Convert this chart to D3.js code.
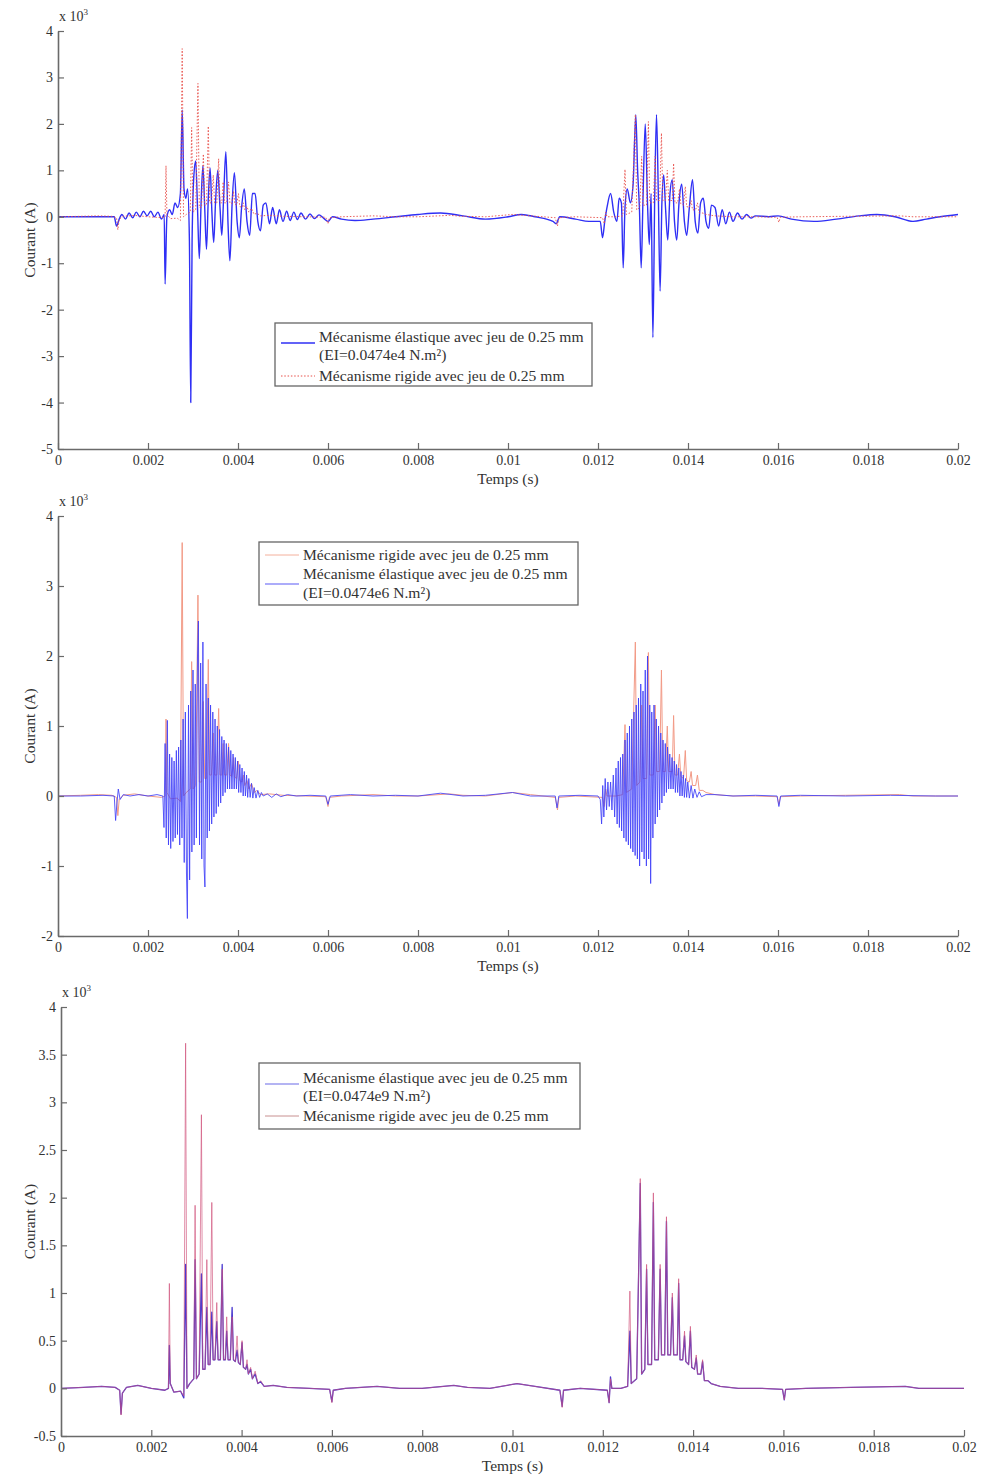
<!DOCTYPE html>
<html><head><meta charset="utf-8">
<script src="https://cdn.jsdelivr.net/npm/d3@7"></script>
<style>body{margin:0;background:#fff}svg{display:block}text{font-family:"Liberation Serif","DejaVu Serif",serif}</style>
</head><body>
<script>
// ---------- DATA (time in ms, current in x10^3 A) ----------
const xTickValues = [0,2,4,6,8,10,12,14,16,18,20];
const xTickLabels = ["0","0.002","0.004","0.006","0.008","0.01","0.012","0.014","0.016","0.018","0.02"];
const yTicks1 = [4,3,2,1,0,-1,-2,-3,-4,-5];
const yTicks2 = [4,3,2,1,0,-1,-2];
const yTicks3 = [4,3.5,3,2.5,2,1.5,1,0.5,0,-0.5];
const yTickLabels3 = ["4","3.5","3","2.5","2","1.5","1","0.5","0","-0.5"];

const rigid = [[0,0],[0.5,0.01],[0.9,0.02],[1.2,0.01],[1.3,-0.02],[1.33,-0.28],[1.36,-0.05],[1.45,0.01],[1.7,0.03],[2.0,0.0],[2.3,-0.02],[2.38,0.0],[2.40,1.1],[2.42,0.05],[2.5,-0.04],[2.65,-0.03],[2.72,-0.08],[2.76,3.62],[2.79,0.0],[2.85,0.05],[2.94,0.1],[2.97,1.92],[3.0,0.1],[3.06,0.15],[3.11,2.87],[3.14,0.2],[3.19,0.2],[3.23,1.35],[3.26,0.25],[3.30,0.25],[3.34,1.95],[3.37,0.3],[3.41,0.3],[3.45,0.9],[3.48,0.3],[3.53,0.3],[3.57,1.25],[3.60,0.3],[3.64,0.3],[3.67,0.75],[3.70,0.3],[3.75,0.3],[3.79,0.75],[3.82,0.3],[3.86,0.28],[3.90,0.55],[3.93,0.27],[3.97,0.25],[4.01,0.5],[4.04,0.22],[4.09,0.2],[4.12,0.3],[4.15,0.15],[4.2,0.22],[4.24,0.1],[4.3,0.18],[4.36,0.05],[4.42,0.08],[4.5,0.02],[4.7,0.03],[5.0,0.01],[5.5,0.0],[5.95,-0.01],[6.0,-0.15],[6.03,-0.02],[6.3,0.0],[7.0,0.02],[7.5,0.0],[8.0,0.0],[8.7,0.03],[9.0,0.01],[9.5,0.0],[10.1,0.05],[10.5,0.02],[11.05,-0.02],[11.1,-0.2],[11.13,-0.02],[11.5,0.0],[12.1,-0.02],[12.14,-0.15],[12.17,0.1],[12.2,0.0],[12.4,0.0],[12.55,0.02],[12.6,1.02],[12.63,0.05],[12.75,0.1],[12.83,2.2],[12.86,0.15],[12.93,0.2],[12.97,1.3],[13.0,0.25],[13.08,0.25],[13.12,2.05],[13.15,0.3],[13.23,0.3],[13.27,1.3],[13.3,0.35],[13.37,0.35],[13.41,1.8],[13.44,0.35],[13.5,0.35],[13.54,1.0],[13.57,0.35],[13.65,0.35],[13.68,1.15],[13.71,0.3],[13.77,0.3],[13.81,0.6],[13.84,0.28],[13.9,0.25],[13.94,0.65],[13.97,0.22],[14.03,0.2],[14.07,0.35],[14.1,0.15],[14.17,0.15],[14.21,0.3],[14.25,0.08],[14.33,0.08],[14.4,0.05],[14.6,0.02],[15.0,0.0],[15.5,0.0],[15.98,-0.01],[16.02,-0.12],[16.05,-0.01],[16.5,0.0],[17.5,0.01],[18.7,0.02],[19.0,0.0],[20.0,0.0]];

const elasticE4 = [[0,0],[0.5,0.0],[1.0,0.0],[1.25,0.0],[1.3,-0.2],[1.36,-0.05],[1.42,0.05],[1.5,-0.05],[1.58,0.08],[1.66,-0.02],[1.74,0.1],[1.82,0.0],[1.9,0.12],[1.98,0.02],[2.06,0.12],[2.14,0.0],[2.22,0.1],[2.3,-0.05],[2.36,0.05],[2.38,-1.45],[2.42,0.0],[2.48,0.15],[2.54,0.05],[2.6,0.3],[2.66,0.2],[2.72,0.5],[2.76,2.3],[2.8,0.6],[2.84,0.4],[2.88,0.6],[2.92,-0.5],[2.95,-4.0],[2.98,-0.5],[3.02,0.9],[3.06,1.2],[3.1,0.2],[3.14,-0.9],[3.18,0.3],[3.22,1.1],[3.26,0.2],[3.3,-0.7],[3.34,0.4],[3.38,1.05],[3.42,0.1],[3.46,-0.55],[3.5,0.3],[3.55,1.0],[3.6,0.2],[3.64,-0.4],[3.68,0.4],[3.73,1.4],[3.78,-0.2],[3.82,-0.95],[3.87,0.3],[3.92,0.95],[3.98,-0.1],[4.03,-0.45],[4.08,0.2],[4.14,0.6],[4.2,-0.1],[4.26,-0.4],[4.32,0.5],[4.38,0.5],[4.44,-0.1],[4.5,-0.3],[4.56,0.25],[4.62,0.3],[4.7,-0.15],[4.77,0.2],[4.85,-0.15],[4.92,0.15],[5.0,-0.1],[5.08,0.12],[5.16,-0.08],[5.24,0.1],[5.32,-0.06],[5.4,0.08],[5.5,-0.05],[5.6,0.06],[5.7,-0.04],[5.8,0.04],[5.9,-0.03],[6.0,-0.1],[6.1,0.0],[6.3,-0.05],[6.6,-0.08],[7.0,-0.05],[7.5,0.0],[8.0,0.05],[8.5,0.08],[9.0,0.02],[9.5,-0.05],[10.0,0.0],[10.3,0.05],[10.6,0.0],[11.0,-0.1],[11.07,-0.15],[11.15,0.0],[11.5,-0.05],[11.8,-0.1],[12.05,-0.1],[12.1,-0.45],[12.15,-0.1],[12.2,0.2],[12.28,0.5],[12.35,0.1],[12.42,-0.1],[12.47,0.4],[12.52,0.3],[12.56,-1.1],[12.6,0.2],[12.65,0.6],[12.72,0.3],[12.78,0.7],[12.84,2.2],[12.88,1.0],[12.92,0.2],[12.96,-1.1],[13.0,0.4],[13.05,2.0],[13.1,0.3],[13.14,-0.6],[13.18,0.5],[13.22,-2.6],[13.26,0.4],[13.3,2.2],[13.34,0.5],[13.38,-1.6],[13.42,0.3],[13.46,0.9],[13.5,0.2],[13.55,-0.5],[13.6,0.5],[13.65,0.8],[13.7,-0.1],[13.75,-0.5],[13.8,0.3],[13.86,0.7],[13.92,-0.1],[13.97,-0.4],[14.03,0.2],[14.1,0.8],[14.16,-0.1],[14.22,-0.35],[14.28,0.3],[14.34,0.4],[14.4,-0.1],[14.46,-0.25],[14.52,0.25],[14.6,0.2],[14.68,-0.2],[14.76,0.15],[14.84,-0.15],[14.92,0.1],[15.0,-0.1],[15.1,0.08],[15.2,-0.05],[15.3,0.05],[15.4,-0.03],[15.5,0.02],[15.8,0.0],[16.0,0.02],[16.3,-0.05],[16.8,-0.1],[17.3,-0.05],[17.8,0.02],[18.2,0.05],[18.6,0.0],[19.0,-0.1],[19.3,-0.05],[19.6,0.0],[20.0,0.05]];

const elasticE6 = [[0,0],[0.5,0.0],[1.0,0.01],[1.25,0.0],[1.28,-0.35],[1.31,-0.1],[1.34,0.1],[1.38,-0.05],[1.45,0.02],[1.6,0.0],[1.8,0.02],[2.0,0.0],[2.2,0.02],[2.33,0.0],
[2.355,-0.45],[2.38,0.75],[2.405,-0.6],[2.43,1.08],[2.455,-0.7],[2.48,0.6],[2.505,-0.75],[2.53,0.55],[2.555,-0.65],[2.58,0.5],[2.605,-0.6],[2.63,0.65],[2.655,-0.55],[2.68,0.7],[2.705,-0.7],[2.73,0.8],[2.755,-0.6],[2.78,1.1],[2.805,-0.95],[2.83,1.2],[2.855,-1.1],[2.875,-1.75],[2.9,1.3],[2.925,-1.2],[2.95,1.5],[2.975,-0.8],[3.0,1.8],[3.025,-0.7],[3.05,1.6],[3.075,-0.6],[3.1,2.0],[3.12,2.5],[3.145,-0.7],[3.17,1.9],[3.195,-0.9],[3.22,2.2],[3.245,-1.0],[3.265,-1.3],[3.29,1.6],[3.315,-0.6],[3.34,1.4],[3.365,-0.5],[3.39,1.3],[3.415,-0.4],[3.44,1.2],[3.465,-0.3],[3.49,1.1],[3.515,-0.25],[3.54,1.0],[3.565,-0.15],[3.59,0.95],[3.615,-0.1],[3.64,0.85],[3.665,0.0],[3.69,0.8],[3.715,0.05],[3.74,0.75],[3.765,0.1],[3.79,0.7],[3.815,0.1],[3.84,0.65],[3.865,0.1],[3.89,0.6],[3.915,0.1],[3.94,0.55],[3.965,0.1],[3.99,0.5],[4.015,0.05],[4.04,0.45],[4.065,0.05],[4.09,0.4],[4.115,0.0],[4.14,0.35],[4.165,0.0],[4.19,0.3],[4.215,-0.02],[4.24,0.25],[4.27,-0.02],[4.3,0.18],[4.33,-0.03],[4.36,0.12],[4.4,-0.03],[4.44,0.08],[4.48,-0.02],[4.52,0.05],[4.56,0.0],
[4.65,0.03],[4.75,-0.02],[4.85,0.03],[4.95,-0.01],[5.1,0.02],[5.3,0.0],[5.6,0.01],[5.95,0.0],[6.0,-0.12],[6.05,0.0],[6.5,0.02],[7.0,0.0],[7.5,0.01],[8.0,0.0],[8.5,0.04],[9.0,0.0],[9.5,0.01],[10.1,0.05],[10.5,0.0],[11.05,0.0],[11.09,-0.17],[11.13,0.0],[11.6,0.01],[12.0,0.0],
[12.05,-0.05],[12.08,-0.4],[12.105,0.15],[12.13,-0.3],[12.16,0.25],[12.19,-0.2],[12.22,0.2],[12.25,-0.15],[12.28,0.2],[12.31,-0.2],[12.34,0.3],[12.37,-0.3],[12.4,0.4],[12.425,-0.4],[12.45,0.5],[12.475,-0.45],[12.5,0.55],[12.525,-0.5],[12.55,0.6],[12.575,-0.6],[12.6,0.8],[12.625,-0.65],[12.65,0.9],[12.675,-0.7],[12.7,1.0],[12.725,-0.75],[12.75,1.1],[12.775,-0.8],[12.8,1.2],[12.825,-0.85],[12.85,1.3],[12.875,-0.9],[12.9,1.4],[12.925,-1.0],[12.95,1.6],[12.975,-0.8],[13.0,1.5],[13.025,-0.9],[13.05,1.8],[13.075,-1.0],[13.1,2.0],[13.125,-0.9],[13.15,1.3],[13.17,-1.25],[13.195,1.2],[13.22,-0.6],[13.245,1.3],[13.27,-0.4],[13.295,1.1],[13.32,-0.3],[13.345,1.0],[13.37,-0.2],[13.395,0.9],[13.42,-0.1],[13.445,0.8],[13.47,0.0],[13.495,0.75],[13.52,0.05],[13.545,0.7],[13.57,0.1],[13.595,0.6],[13.62,0.1],[13.645,0.55],[13.67,0.1],[13.695,0.5],[13.72,0.05],[13.745,0.45],[13.77,0.05],[13.795,0.4],[13.82,0.0],[13.845,0.35],[13.87,0.0],[13.895,0.3],[13.92,-0.02],[13.945,0.25],[13.97,-0.02],[13.995,0.2],[14.03,-0.03],[14.07,0.15],[14.11,-0.03],[14.15,0.1],[14.2,-0.02],[14.25,0.06],[14.3,-0.01],[14.4,0.02],
[14.6,0.02],[15.0,0.0],[15.5,0.01],[15.98,0.0],[16.02,-0.15],[16.06,0.0],[16.5,0.01],[17.5,0.0],[18.5,0.01],[19.5,0.0],[20.0,0.0]];

const elasticE9 = [[0,0],[0.5,0.01],[0.9,0.02],[1.2,0.01],[1.3,-0.02],[1.33,-0.27],[1.36,-0.05],[1.45,0.01],[1.7,0.03],[2.0,0.0],[2.3,-0.02],[2.38,0.0],[2.40,0.45],[2.42,0.05],[2.5,-0.04],[2.65,-0.03],[2.72,-0.1],[2.76,1.3],[2.79,0.0],[2.85,0.05],[2.94,0.1],[2.97,1.35],[3.0,0.1],[3.06,0.15],[3.11,1.2],[3.14,0.2],[3.19,0.2],[3.23,0.85],[3.26,0.25],[3.30,0.25],[3.34,0.8],[3.37,0.3],[3.41,0.3],[3.45,0.7],[3.48,0.3],[3.53,0.3],[3.57,1.3],[3.60,0.3],[3.64,0.3],[3.67,0.6],[3.70,0.3],[3.75,0.3],[3.79,0.85],[3.82,0.3],[3.86,0.28],[3.90,0.4],[3.93,0.27],[3.97,0.25],[4.01,0.48],[4.04,0.22],[4.09,0.2],[4.12,0.25],[4.15,0.15],[4.2,0.2],[4.24,0.1],[4.3,0.15],[4.36,0.05],[4.42,0.07],[4.5,0.02],[4.7,0.03],[5.0,0.01],[5.5,0.0],[5.95,-0.01],[6.0,-0.14],[6.03,-0.02],[6.3,0.0],[7.0,0.02],[7.5,0.0],[8.0,0.0],[8.7,0.03],[9.0,0.01],[9.5,0.0],[10.1,0.05],[10.5,0.02],[11.05,-0.02],[11.1,-0.19],[11.13,-0.02],[11.5,0.0],[12.1,-0.02],[12.14,-0.15],[12.17,0.12],[12.2,0.0],[12.4,0.0],[12.55,0.02],[12.6,0.6],[12.63,0.05],[12.75,0.1],[12.83,2.15],[12.86,0.15],[12.93,0.2],[12.97,1.25],[13.0,0.25],[13.08,0.25],[13.12,1.95],[13.15,0.3],[13.23,0.3],[13.27,1.25],[13.3,0.35],[13.37,0.35],[13.41,1.75],[13.44,0.35],[13.5,0.35],[13.54,0.95],[13.57,0.35],[13.65,0.35],[13.68,1.1],[13.71,0.3],[13.77,0.3],[13.81,0.55],[13.84,0.28],[13.9,0.25],[13.94,0.6],[13.97,0.22],[14.03,0.2],[14.07,0.32],[14.1,0.15],[14.17,0.15],[14.21,0.28],[14.25,0.08],[14.33,0.08],[14.4,0.05],[14.6,0.02],[15.0,0.0],[15.5,0.0],[15.98,-0.01],[16.02,-0.12],[16.05,-0.01],[16.5,0.0],[17.5,0.01],[18.7,0.02],[19.0,0.0],[20.0,0.0]];

const labelElastic = "Mécanisme élastique avec jeu de 0.25 mm";
const labelRigid = "Mécanisme rigide avec jeu de 0.25 mm";
const eiLabels = ["(EI=0.0474e4 N.m²)", "(EI=0.0474e6 N.m²)", "(EI=0.0474e9 N.m²)"];
const xAxisTitle = "Temps (s)";
const yAxisTitle = "Courant (A)";

// ---------- LAYOUT ----------
const W = 982, H = 1476;
const svg = d3.select("body").append("svg").attr("width", W).attr("height", H);

const blue = "#2f2ff5", red = "#e8504a";
const panels = [
  {x0:58, x1:958, yTop:31, yBot:449, dom:[-5,4], ticks:yTicks1, tlab:yTicks1.map(String),
   series:[{d:elasticE4,c:blue,w:1.4,o:1,smooth:true},{d:rigid,c:red,w:1,o:0.9,dash:"1.5,1.8"}],
   legend:{x:275,y:323,w:317,h:63, rows:[
       {t:labelElastic,y:14},{t:" "+eiLabels[0],y:32},{t:labelRigid,y:53}],
     lines:[{c:blue,w:1.3,y:20},{c:red,w:1,dash:"1.5,1.8",y:53}]}},
  {x0:58, x1:958, yTop:516, yBot:936, dom:[-2,4], ticks:yTicks2, tlab:yTicks2.map(String),
   series:[{d:rigid,c:"#f29a86",w:1,o:1},{d:elasticE6,c:"#4040f8",w:1,o:0.85}],
   legend:{x:259,y:542,w:319,h:63, rows:[
       {t:labelRigid,y:13},{t:labelElastic,y:32},{t:eiLabels[1],y:51}],
     lines:[{c:"#f4b09c",w:1,y:13},{c:"#5a5af5",w:1.2,y:42}]}},
  {x0:61, x1:964, yTop:1007, yBot:1436, dom:[-0.5,4], ticks:yTicks3, tlab:yTickLabels3,
   series:[{d:elasticE9,c:"#4a3ad0",w:1.3,o:1},{d:rigid,c:"#d0507a",w:1,o:0.65}],
   legend:{x:259,y:1063,w:321,h:66, rows:[
       {t:labelElastic,y:15},{t:eiLabels[2],y:33},{t:labelRigid,y:53}],
     lines:[{c:"#6a6ae8",w:1.2,y:21},{c:"#c89090",w:1,y:53}]}}
];

const axisColor = "#6a6a6a", textColor = "#333";

panels.forEach(p => {
  const g = svg.append("g");
  const x = d3.scaleLinear().domain([0,20]).range([p.x0,p.x1]);
  const y = d3.scaleLinear().domain(p.dom).range([p.yBot,p.yTop]);

  p.series.forEach(s => {
    const line = d3.line().x(d=>x(d[0])).y(d=>y(d[1]))
      .curve(s.smooth ? d3.curveMonotoneX : d3.curveLinear);
    g.append("path").datum(s.d).attr("d", line).attr("fill","none")
      .attr("stroke", s.c).attr("stroke-width", s.w).attr("stroke-opacity", s.o)
      .attr("stroke-linejoin","round")
      .attr("stroke-dasharray", s.dash || null);
  });

  const xa = d3.axisBottom(x).tickValues(xTickValues).tickFormat((d,i)=>xTickLabels[i]).tickSizeInner(-6).tickSizeOuter(0).tickPadding(6);
  const gx = g.append("g").attr("transform",`translate(0,${p.yBot})`).call(xa);
  const ya = d3.axisLeft(y).tickValues(p.ticks).tickFormat((d,i)=>p.tlab[i]).tickSizeInner(-6).tickSizeOuter(0).tickPadding(5);
  const gy = g.append("g").attr("transform",`translate(${p.x0},0)`).call(ya);
  [gx,gy].forEach(a => {
    a.select(".domain").attr("stroke",axisColor).attr("stroke-width",1.6);
    a.selectAll(".tick line").attr("stroke",axisColor).attr("stroke-width",1.2);
    a.selectAll(".tick text").attr("fill",textColor).attr("font-size",14)
      .attr("font-family",'"Liberation Serif",serif');
  });

  const ex = g.append("text").attr("x",p.x0+1).attr("y",p.yTop-10).attr("fill",textColor)
     .attr("font-size",14);
  ex.append("tspan").text("x 10");
  ex.append("tspan").attr("dy",-6).attr("font-size",9).text("3");

  g.append("text").attr("x",(p.x0+p.x1)/2).attr("y",p.yBot+35).attr("text-anchor","middle")
    .attr("fill",textColor).attr("font-size",15.5).text(xAxisTitle);
  g.append("text").attr("transform",`translate(35,${(p.yTop+p.yBot)/2}) rotate(-90)`)
    .attr("text-anchor","middle").attr("fill",textColor).attr("font-size",15.5).text(yAxisTitle);

  const L = p.legend;
  const lg = g.append("g").attr("transform",`translate(${L.x},${L.y})`);
  lg.append("rect").attr("width",L.w).attr("height",L.h).attr("fill","#fff")
    .attr("stroke","#666").attr("stroke-width",1.3);
  L.lines.forEach(it => {
    lg.append("line").attr("x1",6).attr("x2",40).attr("y1",it.y).attr("y2",it.y)
      .attr("stroke",it.c).attr("stroke-width",it.w).attr("stroke-dasharray",it.dash||null);
  });
  L.rows.forEach(r => {
    lg.append("text").attr("x",44).attr("y", r.y).attr("dy","0.35em")
      .attr("fill",textColor).attr("font-size",15.6).text(r.t);
  });
});
</script>
</body></html>
